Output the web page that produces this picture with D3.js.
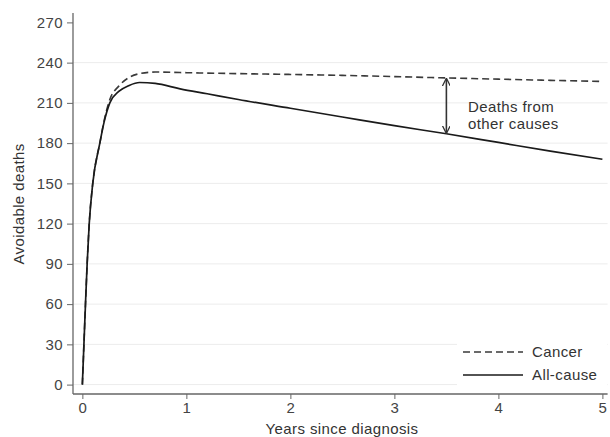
<!DOCTYPE html>
<html lang="en">
<head>
<meta charset="UTF-8">
<title>Avoidable deaths</title>
<script src="https://d3js.org/d3.v7.min.js"></script>
<style>
  body { margin: 0; background: #fff; }
  text { font-family: "Liberation Sans", Arial, sans-serif; letter-spacing: 0.4px; }
</style>
</head>
<body>
<div id="chart"></div>
<script>
// years since diagnosis, and avoidable deaths
const years     = [0, 0.015, 0.03, 0.046, 0.066, 0.1, 0.168, 0.21, 0.264, 0.35, 0.45, 0.55, 0.7, 0.94, 1.2, 1.5, 2, 2.5, 3, 3.5, 4, 4.5, 5];
const cancer    = [0, 30, 60, 90, 120, 150, 180, 197, 212.5, 222.5, 229, 231.8, 233, 232.6, 232.2, 231.8, 231.2, 230.5, 229.6, 228.6, 227.7, 226.8, 226];
const allCause  = [0, 30, 60, 90, 120, 150, 180, 196, 210, 218.5, 223, 225.2, 224.5, 220.5, 216.8, 212.5, 206, 199.5, 193, 187, 180.5, 174, 168];
const yTicks    = [0, 30, 60, 90, 120, 150, 180, 210, 240, 270];
const xTicks    = [0, 1, 2, 3, 4, 5];
const seriesNames = ["Cancer", "All-cause"];
const arrowYear = 3.5;

const width = 610, height = 437;
const fontSize = "15px";
const svg = d3.select("#chart").append("svg")
    .attr("width", width).attr("height", height);

const x = d3.scaleLinear().domain([-0.09, 5.05]).range([73, 607.6]);
const y = d3.scaleLinear().domain([-7, 277]).range([394, 13]);

const defs = svg.append("defs");
defs.append("marker").attr("id", "ah")
    .attr("viewBox", "0 0 10 10").attr("refX", 9).attr("refY", 5)
    .attr("markerWidth", 8).attr("markerHeight", 8)
    .attr("markerUnits", "userSpaceOnUse")
    .attr("orient", "auto-start-reverse")
  .append("path").attr("d", "M0,0 L10,5 L0,10").attr("fill", "none")
    .attr("stroke", "#333").attr("stroke-width", 1.6);

// gridlines
svg.append("g").selectAll("line")
    .data(yTicks.filter(d => d < 270))
    .enter().append("line")
    .attr("x1", 73).attr("x2", 607.6)
    .attr("y1", d => y(d)).attr("y2", d => y(d))
    .attr("stroke", "#ececec").attr("stroke-width", 1);

// axes
const yAxis = svg.append("g").attr("transform", "translate(73,0)")
    .call(d3.axisLeft(y).tickValues(yTicks).tickFormat(d3.format("d")).tickSize(6).tickPadding(4));
const xAxis = svg.append("g").attr("transform", "translate(0,394)")
    .call(d3.axisBottom(x).tickValues(xTicks).tickFormat(d3.format("d")).tickSize(5).tickPadding(3));
[yAxis, xAxis].forEach(a => {
    a.selectAll("path").attr("stroke", "#666").attr("stroke-width", 1.3);
    a.selectAll("line").attr("stroke", "#666");
    a.selectAll("text").attr("fill", "#444").style("font-size", fontSize)
        .style("font-family", "'Liberation Sans', Arial, sans-serif");
});
yAxis.select(".domain").attr("d", "M0,13V394");
xAxis.select(".domain").attr("d", "M73,0H607.6");

// lines
const line = d3.line().curve(d3.curveMonotoneX);
const cancerPts = years.map((t, i) => [x(t), y(cancer[i])]);
const allPts = years.map((t, i) => [x(t), y(allCause[i])]);

svg.append("path").attr("d", line(cancerPts))
    .attr("fill", "none").attr("stroke", "#3a3a3a").attr("stroke-width", 1.6)
    .attr("stroke-dasharray", "7,4");
svg.append("path").attr("d", line(allPts))
    .attr("fill", "none").attr("stroke", "#1a1a1a").attr("stroke-width", 1.7);

// arrow between the two curves
const ai = years.indexOf(arrowYear);
svg.append("line")
    .attr("x1", x(arrowYear)).attr("x2", x(arrowYear))
    .attr("y1", y(cancer[ai]) + 1).attr("y2", y(allCause[ai]) - 1)
    .attr("stroke", "#333").attr("stroke-width", 1.6)
    .attr("marker-start", "url(#ah)").attr("marker-end", "url(#ah)");

svg.append("text").attr("x", 468).attr("y", 112)
    .attr("fill", "#333").style("font-size", fontSize).text("Deaths from");
svg.append("text").attr("x", 468).attr("y", 129)
    .attr("fill", "#333").style("font-size", fontSize).text("other causes");

// legend
const legend = svg.append("g");
legend.append("rect").attr("x", 457).attr("y", 335).attr("width", 150).attr("height", 56)
    .attr("fill", "#fff");
seriesNames.forEach((name, i) => {
    const ly = 352 + i * 23;
    legend.append("line").attr("x1", 463).attr("x2", 523).attr("y1", ly).attr("y2", ly)
        .attr("stroke", i === 0 ? "#3a3a3a" : "#1a1a1a").attr("stroke-width", 1.6)
        .attr("stroke-dasharray", i === 0 ? "7,4" : null);
    legend.append("text").attr("x", 532).attr("y", ly + 5)
        .attr("fill", "#333").style("font-size", fontSize).text(name);
});

// axis titles
svg.append("text").attr("x", 342).attr("y", 434).attr("text-anchor", "middle")
    .attr("fill", "#333").style("font-size", fontSize).text("Years since diagnosis");
svg.append("text").attr("transform", "translate(24,204) rotate(-90)")
    .attr("text-anchor", "middle")
    .attr("fill", "#333").style("font-size", fontSize).text("Avoidable deaths");
</script>
</body>
</html>
